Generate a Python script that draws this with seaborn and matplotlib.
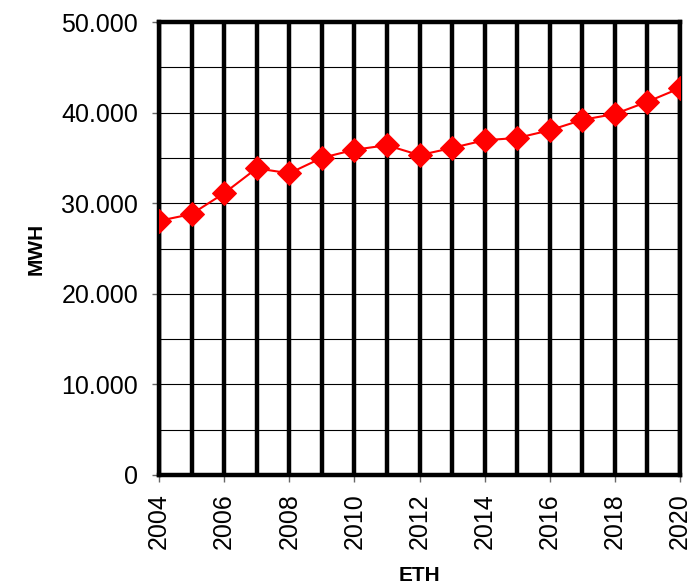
import matplotlib
matplotlib.use("Agg")
import matplotlib.pyplot as plt
from matplotlib.ticker import MultipleLocator, FuncFormatter
import seaborn as sns
import pandas as pd

years = [2004, 2005, 2006, 2007, 2008, 2009, 2010, 2011, 2012, 2013,
         2014, 2015, 2016, 2017, 2018, 2019, 2020]
mwh = [28050, 28800, 31100, 33850, 33300, 35000, 35900, 36400, 35300, 36100,
       36950, 37200, 38050, 39200, 39850, 41200, 42700]

df = pd.DataFrame({"ETH": years, "MWH": mwh})

sns.set_theme(style="white")
plt.rcParams["font.family"] = ["Liberation Sans", "DejaVu Sans"]
plt.rcParams["text.color"] = "black"
plt.rcParams["axes.labelcolor"] = "black"
plt.rcParams["xtick.color"] = "black"
plt.rcParams["ytick.color"] = "black"

fig = plt.figure(figsize=(6.93, 5.84), dpi=100)
ax = fig.add_axes([159/693, 1-475/584, (680-159)/693, (475-22)/584])

sns.lineplot(data=df, x="ETH", y="MWH", ax=ax, color="#ff0000", linewidth=1.5,
             marker="D", markersize=12, markeredgecolor="#ff0000", zorder=5)

ax.set_xlim(2004, 2020)
ax.set_ylim(0, 50000)
ax.xaxis.set_major_locator(MultipleLocator(2))
ax.xaxis.set_minor_locator(MultipleLocator(1))
ax.yaxis.set_major_locator(MultipleLocator(10000))
ax.yaxis.set_minor_locator(MultipleLocator(5000))
ax.yaxis.set_major_formatter(FuncFormatter(lambda v, p: f"{int(v):,}".replace(",", ".")))

ax.grid(True, axis="x", which="both", color="black", linewidth=3.2)
ax.grid(True, axis="y", which="both", color="black", linewidth=0.8)
ax.set_axisbelow(True)

for s in ax.spines.values():
    s.set_color("black")
    s.set_linewidth(3.2)

ax.tick_params(axis="both", which="major", direction="out", length=5, width=1,
               color="#666666", labelsize=18, labelcolor="black",
               bottom=True, left=True)
ax.tick_params(axis="y", which="major", pad=10)
ax.tick_params(axis="x", which="major", pad=8)
ax.tick_params(axis="both", which="minor", length=0)
plt.setp(ax.get_xticklabels(), rotation=90)

ax.set_xlabel("ETH", fontsize=15, fontweight="bold")
ax.set_ylabel("MWH", fontsize=15, fontweight="bold")
ax.xaxis.set_label_coords(0.5, (475 - 566) / 453)
ax.yaxis.set_label_coords((46 - 159) / 521, 0.5)

fig.savefig("out.png", dpi=100)
